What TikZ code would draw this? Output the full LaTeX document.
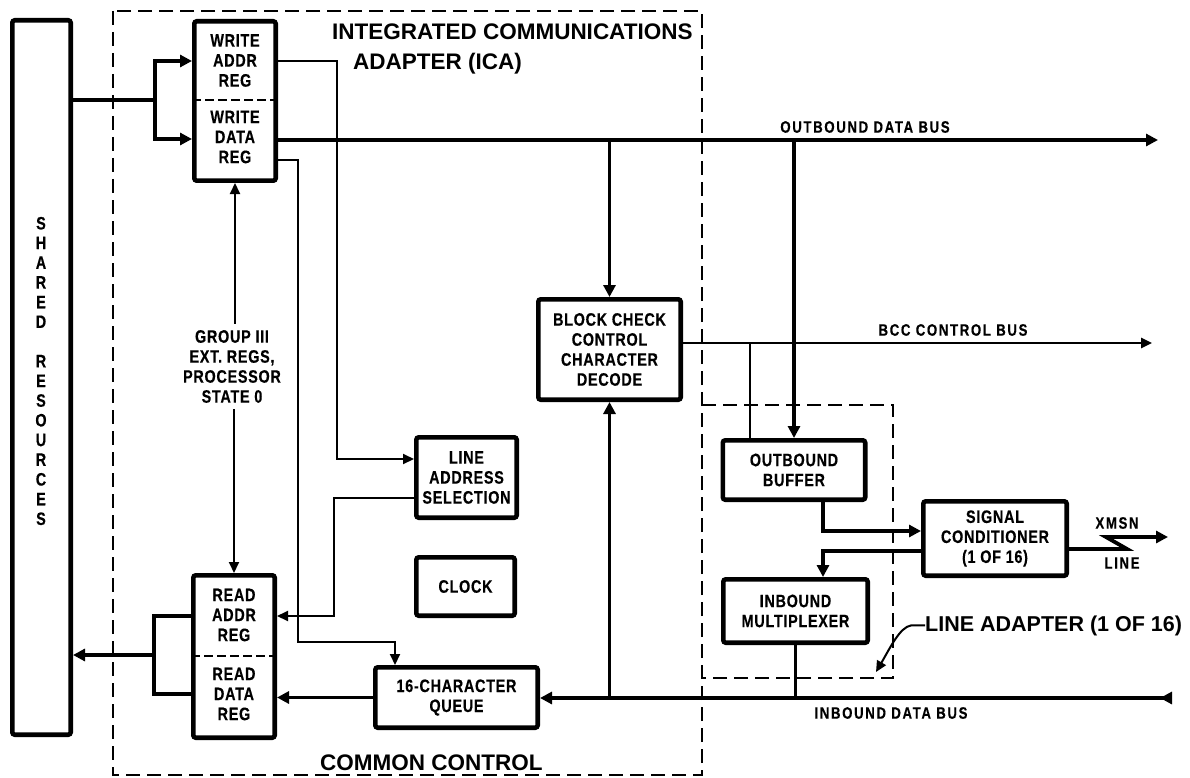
\documentclass[tikz,border=0pt]{standalone}
\usepackage{fontspec}
\setmainfont{Liberation Sans}
\newfontfamily\condfamily[FakeStretch=0.8,LetterSpace=4,BoldFeatures={FakeBold=0.4}]{Liberation Sans}
\newfontfamily\widecondfamily[FakeStretch=0.8,LetterSpace=10,BoldFeatures={FakeBold=0.4}]{Liberation Sans}
\usetikzlibrary{arrows.meta}
\newcommand\boxtext{\condfamily\bfseries\fontsize{18}{20}\selectfont}
\newcommand\bustext{\widecondfamily\bfseries\fontsize{16.5}{19}\selectfont}
\newcommand\headtext{\bfseries\fontsize{22.5}{26}\selectfont}

\tikzset{
  blk/.style={draw, line width=4.6pt, rounded corners=2.5pt, fill=white, inner sep=0pt, align=center, font=\boxtext},
  txt/.style={inner sep=0pt, align=center, font=\boxtext},
  buslabel/.style={inner sep=0pt, font=\bustext},
  head/.style={inner sep=0pt, font=\headtext, anchor=base west},
  frame/.style={line width=2.4pt, dash pattern=on 14pt off 7pt},
  divider/.style={line width=1.3pt, dash pattern=on 9pt off 4pt},
  bus/.style={line width=3.8pt},
  ibus/.style={line width=3.2pt},
  ctl/.style={line width=2.4pt},
  wire/.style={line width=2pt},
  bigtip/.style={-{Triangle[length=12pt,width=12pt]}},
  smalltip/.style={-{Triangle[length=11pt,width=10pt]}},
}

\begin{document}
\begin{tikzpicture}[x=1pt,y=-1pt]
\useasboundingbox (0,0) rectangle (1190,778);

% ---- dashed enclosures: ICA and line adapter
\draw[frame] (113,11) rectangle (702,775);
\draw[frame] (702,405) -| (893,678) -- (702,678);

% ---- blocks
\node[blk, minimum width=58.4pt, minimum height=714.4pt] (shared) at (41.5,377.5) {};
\node[txt, font=\condfamily\bfseries\fontsize{18}{19.7}\selectfont] (srtext) at (41,371)
  {S\\H\\A\\R\\E\\D\\[19.7pt]R\\E\\S\\O\\U\\R\\C\\E\\S};

\node[blk, minimum width=81.4pt, minimum height=159.4pt] (wreg) at (235,101) {};
\draw[divider] (wreg.west |- 0,100) -- (wreg.east |- 0,100);
\node[txt] (wa) at (235,60.5) {WRITE\\ADDR\\REG};
\node[txt] (wd) at (235,137) {WRITE\\DATA\\REG};

\node[blk, minimum width=81.4pt, minimum height=162.4pt] (rreg) at (234,656.5) {};
\draw[divider] (rreg.west |- 0,656) -- (rreg.east |- 0,656);
\node[txt] (ra) at (234,615) {READ\\ADDR\\REG};
\node[txt] (rd) at (234,694) {READ\\DATA\\REG};

\node[blk, minimum width=100.4pt, minimum height=80.4pt] (las) at (466.5,477.5) {LINE\\ADDRESS\\SELECTION};
\node[blk, minimum width=98.4pt, minimum height=58.4pt] (clock) at (465.5,586.5) {CLOCK};
\node[blk, minimum width=162.4pt, minimum height=60.4pt] (queue) at (456.5,697.5) {16-CHARACTER\\QUEUE};
\node[blk, minimum width=142.4pt, minimum height=100.4pt] (bcc) at (609.5,349.5) {BLOCK CHECK\\CONTROL\\CHARACTER\\DECODE};
\node[blk, minimum width=142.4pt, minimum height=59.4pt] (obuf) at (794,470) {OUTBOUND\\BUFFER};
\node[blk, minimum width=144.4pt, minimum height=63.4pt] (imux) at (795.5,611) {INBOUND\\MULTIPLEXER};
\node[blk, minimum width=143.4pt, minimum height=74.4pt] (sc) at (995,538.5) {SIGNAL\\CONDITIONER\\(1 OF 16)};

% ---- headings
\node[head] (icat1) at (332,39.5) {INTEGRATED COMMUNICATIONS};
\node[head] (icat2) at (353,69.5) {ADAPTER (ICA)};
\node[head] (cctl) at (320,770) {COMMON CONTROL};
\node[head, font=\bfseries\fontsize{21.5}{26}\selectfont] (latitle) at (925,631) {LINE ADAPTER (1 OF 16)};

% ---- bus labels
\node[buslabel] (oblbl) at (865,127) {OUTBOUND DATA BUS};
\node[buslabel] (bcclbl) at (953,330) {BCC CONTROL BUS};
\node[buslabel] (iblbl) at (891,713) {INBOUND DATA BUS};
\node[buslabel] (xmsn) at (1117,523) {XMSN};
\node[buslabel] (linelbl) at (1122,563) {LINE};
\node[txt] (grp) at (232,366.5) {GROUP III\\EXT. REGS,\\PROCESSOR\\STATE 0};

% ---- free bus ends and junctions
\coordinate (obend) at (1158,140);
\coordinate (bccend) at (1152,343);
\coordinate (ibstart) at (1172,698);
\coordinate (xend) at (1168,537);
\coordinate (sj) at (155,100);
\coordinate (rj) at (154,655);

% ---- shared resources to write registers
\draw[bus] (shared.east |- sj) -- (sj);
\draw[bus,bigtip] (sj) |- (wreg.west |- 0,61);
\draw[bus,bigtip] (sj) |- (wreg.west |- 0,139);

% ---- outbound data bus
\draw[bus,bigtip] (wreg.east |- 0,140) -- (obend);
\draw[bus,bigtip] (bcc.north |- obend) -- (bcc.north);
\draw[bus,bigtip] (obuf.north |- obend) -- (obuf.north);

% ---- address and control wires
\draw[wire,smalltip] (wreg.east |- 0,61) -| (337,459) -- (las.west |- 0,459);
\draw[wire,smalltip] (wreg.east |- 0,160) -| (298,642) -| (queue.north -| 395,0);
\draw[wire,smalltip] (las.west |- 0,498) -| (334,616) -- (rreg.east |- 0,616);
\draw[wire,smalltip] (grp.north -| wreg.south) ++(0,-6) -- (wreg.south);
\draw[wire,smalltip] (grp.south -| rreg.north) ++(0,6) -- (rreg.north);

% ---- read registers back to shared resources
\draw[bus] (rreg.west |- 0,616) -| (rj) |- (rreg.west |- 0,694);
\draw[bus,bigtip] (rj) -- (shared.east |- rj);
\draw[bus,bigtip] (queue.west) -- (rreg.east |- queue.west);

% ---- BCC control bus
\draw[ctl,smalltip] (bcc.east |- bccend) -- (bccend);
\draw[wire] (750,0 |- bccend) -- (obuf.north -| 750,0);

% ---- line adapter
\draw[bus,bigtip] (obuf.south -| 823,0) |- (sc.west |- 0,531);
\draw[bus,bigtip] (sc.west |- 0,551) -| (imux.north -| 823,0);
\draw[ibus] (imux.south) -- (imux.south |- ibstart);
\draw[bus,bigtip] (sc.east |- 0,549) -- (1127,549) -- (1106,537) -- (xend);

% ---- inbound data bus
\draw[ibus,{Triangle[reversed,length=12pt,width=12pt]}-{Triangle[length=12pt,width=12pt]}] (ibstart) -- (queue.east |- ibstart);
\draw[ibus,bigtip] (bcc.south |- ibstart) -- (bcc.south);

% ---- line adapter callout
\draw[wire,smalltip] (latitle.west) -- ++(-14,0) .. controls (900,627) and (890,648) .. (876,672);
\end{tikzpicture}
\end{document}
